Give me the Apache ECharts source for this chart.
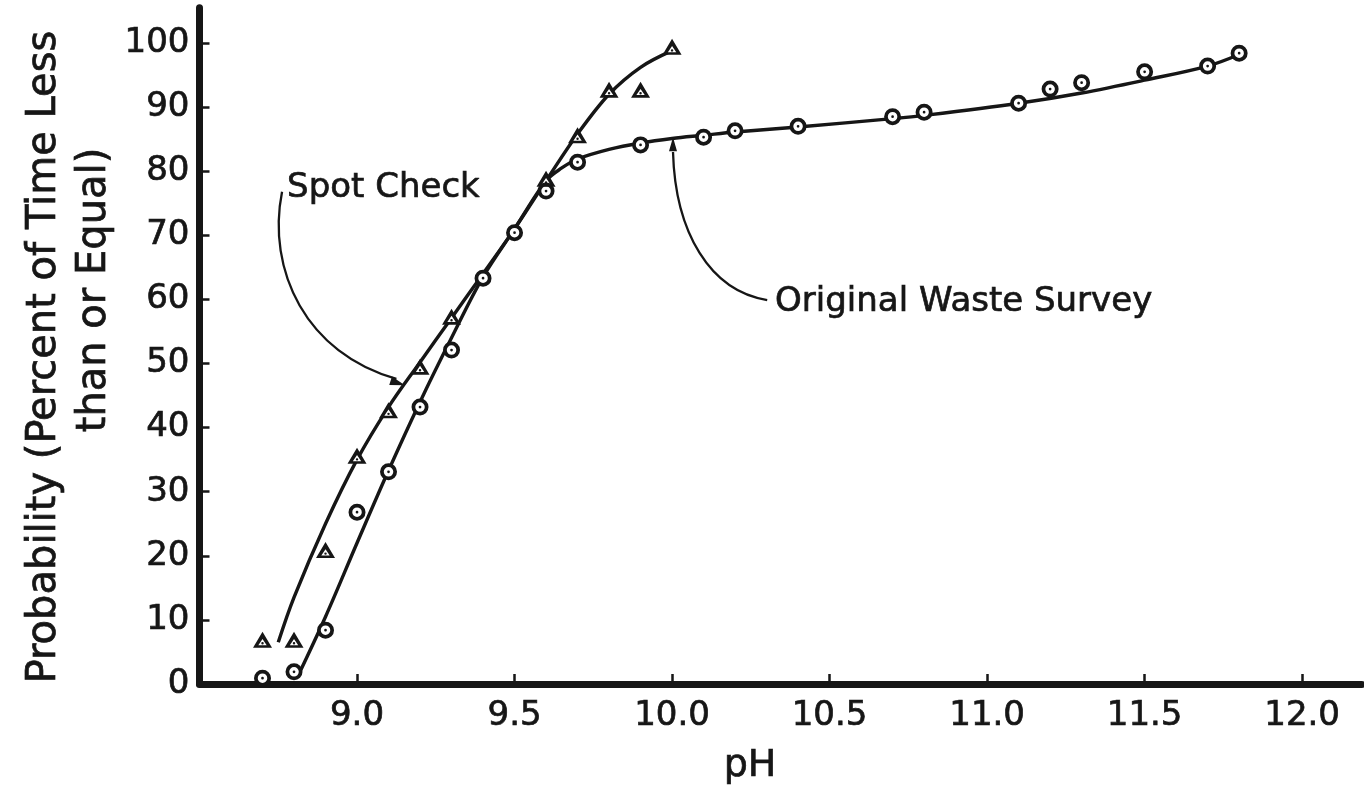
<!DOCTYPE html>
<html>
<head>
<meta charset="utf-8">
<title>pH probability</title>
<script src="https://cdn.jsdelivr.net/npm/echarts@6/dist/echarts.min.js"></script>
<style>
  html, body { margin: 0; padding: 0; background: #fff; }
  #chart { width: 1364px; height: 789px; }
</style>
</head>
<body>
<div id="chart"></div>
<script>
// Observed points: Original Waste Survey (circles)
const phWaste   = [8.7, 8.8, 8.9, 9.0, 9.1, 9.2, 9.3, 9.4, 9.5, 9.6, 9.7, 9.9, 10.1, 10.2, 10.4, 10.7, 10.8, 11.1, 11.2, 11.3, 11.5, 11.7, 11.8];
const probWaste = [0.9, 1.9, 8.4, 26.8, 33.1, 43.2, 52.1, 63.3, 70.4, 76.9, 81.4, 84.1, 85.3, 86.3, 87.0, 88.5, 89.2, 90.6, 92.8, 93.8, 95.5, 96.4, 98.4];

// Observed points: Spot Check (triangles)
const phSpot   = [8.7, 8.8, 8.9, 9.0, 9.1, 9.2, 9.3, 9.6, 9.7, 9.8, 9.9, 10.0];
const probSpot = [6.9, 6.9, 20.9, 35.6, 42.7, 49.5, 57.3, 78.8, 85.6, 92.7, 92.7, 99.4];

// Hand-fitted curves
const phSpotFit   = [8.75, 8.8, 8.9, 9.0, 9.1, 9.2, 9.3, 9.4, 9.5, 9.6, 9.7, 9.8, 9.9, 10.0];
const probSpotFit = [6.5, 13.5, 25.0, 35.0, 43.2, 50.2, 57.1, 64.0, 71.0, 78.5, 85.8, 92.0, 96.2, 98.8];
const phWasteFit   = [8.81, 8.9, 9.0, 9.1, 9.2, 9.3, 9.4, 9.5, 9.6, 9.65, 9.7, 9.8, 9.9, 10.0, 10.1, 10.2, 10.4, 10.7, 10.8, 11.1, 11.3, 11.5, 11.7, 11.8];
const probWasteFit = [1.0, 10.5, 22.0, 33.3, 44.0, 54.0, 63.5, 71.0, 78.5, 80.5, 81.9, 83.4, 84.4, 85.1, 85.6, 86.1, 86.9, 88.2, 88.7, 90.6, 92.2, 94.2, 96.4, 98.2];

// Axis ticks
const xTicks = [9.0, 9.5, 10.0, 10.5, 11.0, 11.5, 12.0];
const yTicks = [0, 10, 20, 30, 40, 50, 60, 70, 80, 90, 100];

const INK = '#161616';
const FONT = 'DejaVu Sans';

const pairs = (xs, ys) => xs.map((x, i) => [x, ys[i]]);

// ring with centre dot, and triangle with centre dot (nonzero fill)
const RING = 'path://M0,10A10,10 0 1,1 20,10A10,10 0 1,1 0,10Z M4.4,10A5.6,5.6 0 1,0 15.6,10A5.6,5.6 0 1,0 4.4,10Z M8.4,10A1.6,1.6 0 1,1 11.6,10A1.6,1.6 0 1,1 8.4,10Z';
const TRI = 'path://M10,0L20,17L0,17Z M10,7.6L5.6,14.2L14.4,14.2Z M8.7,12.3A1.3,1.3 0 1,1 11.3,12.3A1.3,1.3 0 1,1 8.7,12.3Z';

const chart = echarts.init(document.getElementById('chart'), null, { renderer: 'canvas' });

const labelInk = { color: INK, fontFamily: FONT, fontSize: 34, textBorderColor: INK, textBorderWidth: 0.7 };

const option = {
  backgroundColor: '#ffffff',
  animation: false,
  grid: { left: 199.5, right: 2, top: 7.7, bottom: 105, containLabel: false },
  xAxis: {
    type: 'value', min: 8.5, max: 12.19, interval: 0.5,
    axisLine: { show: true, lineStyle: { color: INK, width: 7, cap: 'round' } },
    axisTick: { show: true, inside: true, length: 10, lineStyle: { color: INK, width: 2.5 },
      customValues: xTicks },
    axisLabel: Object.assign({}, labelInk, {
      margin: 15,
      customValues: xTicks,
      formatter: v => v.toFixed(1)
    }),
    splitLine: { show: false }
  },
  yAxis: {
    type: 'value', min: 0, max: 105.5, interval: 10,
    axisLine: { show: true, lineStyle: { color: INK, width: 7, cap: 'round' } },
    axisTick: { show: true, inside: true, length: 10, lineStyle: { color: INK, width: 2.5 },
      customValues: yTicks.slice(1) },
    axisLabel: Object.assign({}, labelInk, {
      margin: 10,
      customValues: yTicks,
      formatter: v => String(Math.round(v))
    }),
    splitLine: { show: false }
  },
  series: [
    {
      name: 'Spot Check curve', type: 'line', data: pairs(phSpotFit, probSpotFit),
      smooth: 0.35, showSymbol: false, z: 2,
      lineStyle: { color: INK, width: 3.4 }
    },
    {
      name: 'Original Waste Survey curve', type: 'line', data: pairs(phWasteFit, probWasteFit),
      smooth: 0.35, showSymbol: false, z: 2,
      lineStyle: { color: INK, width: 3.4 }
    },
    {
      name: 'Original Waste Survey base', type: 'scatter', data: pairs(phWaste, probWaste),
      symbol: 'circle', symbolSize: 15, z: 3,
      itemStyle: { color: '#ffffff', opacity: 1 }
    },
    {
      name: 'Original Waste Survey', type: 'scatter', data: pairs(phWaste, probWaste),
      symbol: RING, symbolSize: 17, z: 4,
      itemStyle: { color: INK, opacity: 1 }
    },
    {
      name: 'Spot Check base', type: 'scatter', data: pairs(phSpot, probSpot),
      symbol: 'triangle', symbolSize: [16, 13], z: 3,
      itemStyle: { color: '#ffffff', opacity: 1 }
    },
    {
      name: 'Spot Check', type: 'scatter', data: pairs(phSpot, probSpot),
      symbol: TRI, symbolSize: [19, 16], z: 4,
      itemStyle: { color: INK, opacity: 1 }
    }
  ]
};

chart.setOption(option);

// Annotations placed in data coordinates
const P = (x, y) => chart.convertToPixel({ gridIndex: 0 }, [x, y]);

function arrowHead(tip, from, len, half) {
  const dx = tip[0] - from[0], dy = tip[1] - from[1];
  const d = Math.hypot(dx, dy) || 1;
  const ux = dx / d, uy = dy / d;
  const bx = tip[0] - ux * len, by = tip[1] - uy * len;
  return {
    type: 'polygon', z: 10,
    shape: { points: [tip, [bx - uy * half, by + ux * half], [bx + uy * half, by - ux * half]] },
    style: { fill: INK }
  };
}

function leader(p0, c1, c2, p1) {
  return {
    type: 'bezierCurve', z: 10,
    shape: { x1: p0[0], y1: p0[1], cpx1: c1[0], cpy1: c1[1], cpx2: c2[0], cpy2: c2[1], x2: p1[0], y2: p1[1] },
    style: { stroke: INK, lineWidth: 2.3, fill: null }
  };
}

// Spot Check leader
const s0 = P(8.762, 76.8), s1 = P(8.712, 64.5), s2 = P(8.84, 51.5), s3 = P(9.125, 47.6), sTip = P(9.152, 46.6);
// Original Waste Survey leader
const w0 = P(10.302, 59.9), w1 = P(10.12, 61.3), w2 = P(10.01, 70.5), w3 = P(10.003, 83.0), wTip = P(10.003, 85.3);

const spotLabel = P(8.778, 77.4);
const wasteLabel = P(10.327, 59.6);

const annoStyle = (text, size, align) => ({
  text, font: size + 'px "DejaVu Sans"', fill: INK, stroke: INK, lineWidth: 0.7,
  textAlign: align, textVerticalAlign: 'middle'
});

chart.setOption({
  graphic: [
    leader(s0, s1, s2, s3),
    arrowHead(sTip, s2, 15, 4.5),
    leader(w0, w1, w2, w3),
    arrowHead(wTip, [w3[0], w3[1] + 20], 14, 4),
    { type: 'text', z: 11, x: spotLabel[0], y: spotLabel[1], style: annoStyle('Spot Check', 34, 'left') },
    { type: 'text', z: 11, x: wasteLabel[0], y: wasteLabel[1], style: annoStyle('Original Waste Survey', 34, 'left') },
    // axis titles
    { type: 'text', z: 11, x: 750, y: 766, style: annoStyle('pH', 38, 'center') },
    { type: 'text', z: 11, x: 45, y: 357, rotation: Math.PI / 2, style: annoStyle('Probability (Percent of Time Less', 40, 'center') },
    { type: 'text', z: 11, x: 95, y: 290, rotation: Math.PI / 2, style: annoStyle('than or Equal)', 40, 'center') }
  ]
});
</script>
</body>
</html>
